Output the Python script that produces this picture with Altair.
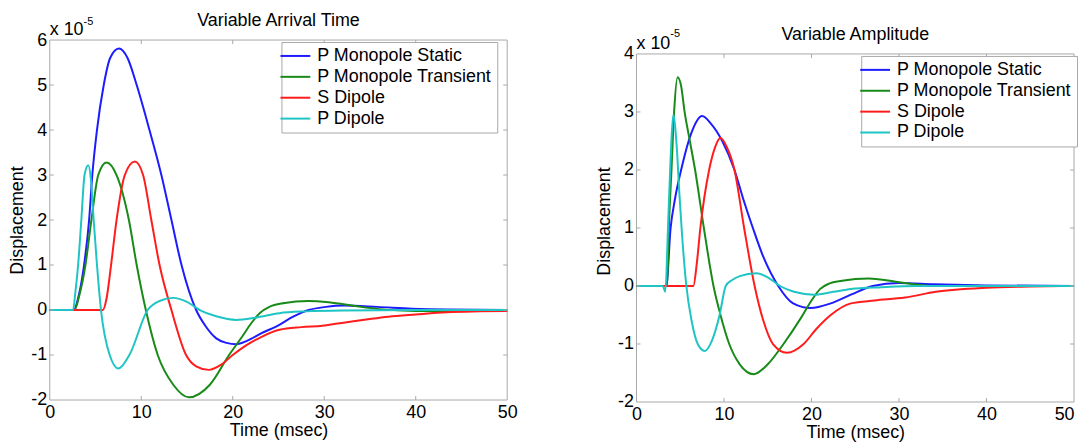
import altair as alt
import pandas as pd

FONT = "Liberation Sans, Arial, sans-serif"
SERIES = ["P Monopole Static", "P Monopole Transient", "S Dipole", "P Dipole"]
COLORS = ["#1c1cff", "#188a18", "#ff1c1c", "#1fc4c4"]
XTICKS = [0, 10, 20, 30, 40, 50]
FRAME = "#a8a8a8"

# ---- Left panel: Variable Arrival Time (displacement in units of 1e-5) ----
L_static_t = [0, 2.6, 3.2, 3.75, 4.3, 4.65, 5.16, 5.9, 6.6, 7.56, 8.5, 9.5, 10.9, 12.2, 13.3, 14.4, 16.0, 17.0, 18.2, 19.3, 20.4, 21.6, 23.1, 25.1, 26.5, 28.3, 30.2, 32.1, 35.8, 39.6, 43.4, 50]
L_static_v = [0, 0, 0.35, 1.0, 2.0, 3.0, 4.0, 5.0, 5.6, 5.81, 5.6, 5.0, 4.0, 3.0, 2.0, 1.0, 0, -0.35, -0.63, -0.73, -0.76, -0.68, -0.52, -0.33, -0.16, 0.0, 0.07, 0.1, 0.07, 0.03, 0.01, 0]
L_trans_t = [0, 2.7, 3.2, 3.9, 4.55, 5.3, 6.2, 7.3, 8.65, 9.5, 10.5, 11.8, 13.5, 15.2, 17.5, 19.6, 21.0, 22.0, 23.0, 24.0, 25.5, 28.3, 30.2, 32.1, 34.0, 36.0, 40, 45, 50]
L_trans_v = [0, 0, 0.3, 1.0, 2.0, 3.0, 3.28, 3.0, 2.0, 1.0, 0, -1.0, -1.66, -1.94, -1.66, -1.0, -0.6, -0.3, -0.06, 0.07, 0.15, 0.2, 0.18, 0.13, 0.07, 0.02, -0.02, -0.02, -0.02]
L_sdip_t = [0, 5.8, 6.2, 6.7, 7.3, 8.2, 9.3, 10.2, 11.1, 12.0, 13.3, 14.9, 16.0, 17.4, 18.7, 20.0, 21.5, 23.1, 25.1, 27.5, 29.8, 31.5, 33.2, 35, 37, 40, 43.4, 47, 50]
L_sdip_v = [0, 0, 0.25, 1.0, 2.0, 3.0, 3.3, 3.0, 2.0, 1.0, 0, -1.0, -1.25, -1.33, -1.22, -1.0, -0.78, -0.6, -0.44, -0.38, -0.35, -0.3, -0.25, -0.2, -0.15, -0.1, -0.05, -0.03, -0.02]
L_pdip_t = [0, 2.55, 2.8, 3.1, 3.45, 3.8, 4.2, 4.5, 4.8, 5.16, 5.6, 6.55, 7.5, 8.7, 10.7, 12.0, 13.5, 15.0, 16.4, 18.2, 20.4, 22.5, 25.1, 28, 32, 40, 50]
L_pdip_v = [0, 0, 0.4, 1.0, 2.0, 3.0, 3.22, 2.9, 2.0, 1.0, 0, -1.0, -1.3, -1.0, 0, 0.2, 0.27, 0.18, 0, -0.14, -0.22, -0.17, -0.07, -0.03, -0.01, 0, 0]

# ---- Right panel: Variable Amplitude ----
R_static_t = [0, 3.4, 3.9, 4.4, 5.1, 6.3, 7.5, 8.5, 9.8, 11.2, 12.2, 13.3, 14.5, 16.2, 17.9, 19.9, 22.2, 24.5, 27, 30, 34, 40, 50]
R_static_v = [0, 0, 1.0, 1.5, 2.0, 2.65, 2.93, 2.8, 2.5, 2.0, 1.5, 1.0, 0.5, 0, -0.3, -0.38, -0.3, -0.15, 0, 0.05, 0.03, 0.01, 0]
R_trans_t = [0, 3.5, 3.7, 4.0, 4.3, 4.7, 5.1, 5.5, 6.1, 6.7, 7.7, 8.8, 9.6, 10.6, 11.8, 13.4, 15.0, 16.8, 18.8, 20.0, 21.0, 22.0, 23.5, 26.5, 30.7, 34, 40, 50]
R_trans_v = [0, 0, 1.0, 2.0, 3.0, 3.6, 3.45, 3.0, 2.5, 2.0, 1.0, 0, -0.5, -1.0, -1.35, -1.52, -1.35, -1.0, -0.55, -0.25, -0.05, 0.04, 0.09, 0.13, 0.05, 0, 0, 0]
R_sdip_t = [0, 6.5, 6.9, 7.3, 8.3, 9.0, 9.6, 10.3, 11.2, 12.3, 13.5, 14.5, 15.6, 17.2, 19.1, 20.5, 22.2, 24.5, 27.2, 30.7, 34.2, 40, 45, 50]
R_sdip_v = [0, 0, 0.4, 1.0, 2.0, 2.4, 2.55, 2.4, 2.0, 1.0, 0, -0.6, -1.0, -1.15, -1.0, -0.75, -0.5, -0.3, -0.25, -0.2, -0.1, -0.03, -0.01, 0]
R_pdip_t = [0, 3.0, 3.3, 3.6, 3.9, 4.2, 4.6, 4.9, 5.2, 5.7, 6.3, 7.0, 7.8, 8.6, 9.5, 10.2, 10.9, 11.8, 13.7, 15, 16.4, 18, 20.3, 22.5, 24.5, 28, 32, 50]
R_pdip_v = [0, 0, -0.1, 1.0, 2.2, 2.95, 2.4, 1.6, 0.9, 0, -0.6, -1.0, -1.12, -0.95, -0.5, 0, 0.1, 0.17, 0.22, 0.15, 0, -0.1, -0.15, -0.1, -0.05, -0.02, 0, 0]


def frame(pairs):
    rows = []
    for name, ts, vs in pairs:
        for t, v in zip(ts, vs):
            rows.append({"t": t, "v": v, "series": name})
    return pd.DataFrame(rows)


def label_chart(text, x, y, size, align="left"):
    d = pd.DataFrame({"s": [text]})
    return alt.Chart(d).mark_text(align=align, baseline="alphabetic", fontSize=size,
                                  font=FONT, color="black").encode(
        x=alt.value(x), y=alt.value(y), text="s:N")


def panel(df, ydom, ytop, title, width, height, frame_top, legend_x, legend_y,
          title_y, exp_y, last_right):
    yvals = list(range(ydom[0], ydom[1] + 1))
    xs = alt.Scale(domain=[0, 50], nice=False, zero=False)
    ys = alt.Scale(domain=[ydom[0], ytop], nice=False, zero=False)
    xkw = dict(values=XTICKS, title="Time (msec)", labelPadding=4, titlePadding=0,
               labelExpr="'' + datum.value")
    if last_right:
        xkw["labelAlign"] = {"condition": {"test": "datum.value == 50", "value": "right"}, "value": "center"}
    xaxis = alt.Axis(**xkw)
    yaxis = alt.Axis(values=yvals, title="Displacement", labelPadding=3, titlePadding=4,
                     labelExpr="'' + datum.value")
    X = lambda f: alt.X(f, scale=xs, axis=xaxis)
    Y = lambda f: alt.Y(f, scale=ys, axis=yaxis)
    lines = alt.Chart(df).mark_line(strokeWidth=2, interpolate="monotone").encode(
        x=X("t:Q"),
        y=Y("v:Q"),
        color=alt.Color(
            "series:N",
            scale=alt.Scale(domain=SERIES, range=COLORS),
            sort=SERIES,
            legend=alt.Legend(
                orient="none", legendX=legend_x, legendY=legend_y, title=None,
                symbolType="M-3,0H3", symbolSize=100, symbolStrokeWidth=2,
                labelFontSize=18, labelFont=FONT, labelColor="black", labelOffset=13,
                rowPadding=3, padding=5, strokeColor=FRAME, fillColor="white",
                labelLimit=400,
            ),
        ),
    )
    # axes box
    box = pd.DataFrame({"x0": [0, 0, 0, 50], "x1": [50, 50, 0, 50],
                        "y0": [ydom[0], ydom[1], ydom[0], ydom[0]],
                        "y1": [ydom[0], ydom[1], ydom[1], ydom[1]]})
    boxc = alt.Chart(box).mark_rule(color=FRAME, strokeWidth=1).encode(
        x=X("x0:Q"), x2="x1:Q", y=Y("y0:Q"), y2="y1:Q")
    xt = pd.DataFrame({"t": XTICKS[1:-1]})
    yt = pd.DataFrame({"v": yvals[1:-1]})
    xbot = alt.Chart(xt).mark_rule(color=FRAME).encode(
        x=X("t:Q"), y=alt.value(height), y2=alt.value(height - 4))
    xtop = alt.Chart(xt).mark_rule(color=FRAME).encode(
        x=X("t:Q"), y=alt.value(frame_top), y2=alt.value(frame_top + 4))
    yleft = alt.Chart(yt).mark_rule(color=FRAME).encode(
        y=Y("v:Q"), x=alt.value(0), x2=alt.value(4))
    yright = alt.Chart(yt).mark_rule(color=FRAME).encode(
        y=Y("v:Q"), x=alt.value(width - 4), x2=alt.value(width))
    e1 = label_chart("x 10", 0, exp_y[0], 18)
    e2 = label_chart("-5", 34, exp_y[1], 11)
    ttl = label_chart(title, width / 2, title_y, 18, align="center")
    # invisible anchor that fixes how far the panel reaches above its plot area
    anchor = alt.Chart(pd.DataFrame({"a": [0]})).mark_point(opacity=0, size=1).encode(
        x=alt.value(width / 2), y=alt.value(-30))
    return alt.layer(boxc, lines, xbot, xtop, yleft, yright, e1, e2, ttl, anchor).properties(
        width=width, height=height)


left_df = frame([(SERIES[0], L_static_t, L_static_v), (SERIES[1], L_trans_t, L_trans_v),
                 (SERIES[2], L_sdip_t, L_sdip_v), (SERIES[3], L_pdip_t, L_pdip_v)])
right_df = frame([(SERIES[0], R_static_t, R_static_v), (SERIES[1], R_trans_t, R_trans_v),
                  (SERIES[2], R_sdip_t, R_sdip_v), (SERIES[3], R_pdip_t, R_pdip_v)])

# right panel: frame starts 14px below the top of its plot area (6 units over 350px)
left = panel(left_df, [-2, 6], 6, "Variable Arrival Time", 460, 362, 0,
             233, 2, -14, (-5, -15), False)
right = panel(right_df, [-2, 4], 4 + 14 * 6 / 350, "Variable Amplitude", 440, 364, 14,
              226, 16, 0, (9, -3), True)

chart = alt.concat(left, right, columns=2, spacing=77, align="none", bounds="full").resolve_scale(
    color="independent", x="independent", y="independent"
).resolve_legend(color="independent").properties(
    padding=0, background="white"
).configure_view(stroke=None).configure_axis(
    labelFont=FONT, titleFont=FONT, labelFontSize=18, titleFontSize=18,
    labelColor="black", titleColor="black", titleFontWeight="normal",
    grid=False, ticks=False, domain=False, labelFlush=False, labelOverlap=False,
)

chart.save("out.html", embed_options={"renderer": "svg", "actions": False})
